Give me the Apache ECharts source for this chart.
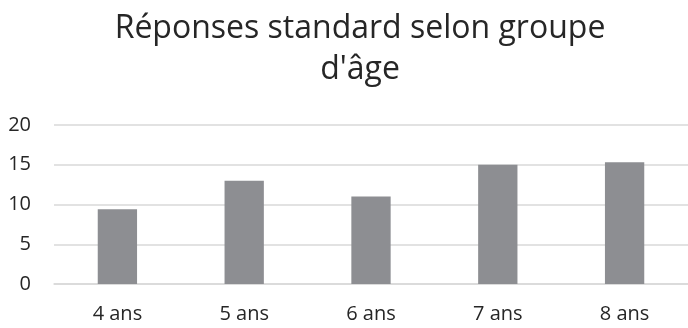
<!DOCTYPE html>
<html><head><meta charset="utf-8">
<script src="https://cdn.jsdelivr.net/npm/echarts@6/dist/echarts.min.js"></script>
<style>html,body{margin:0;padding:0;background:#fff}#c{width:688px;height:328px}</style>
</head><body><div id="c"></div>
<script>
var titleText = "Réponses standard selon groupe\nd'âge";
var categories = ["4 ans", "5 ans", "6 ans", "7 ans", "8 ans"];
var values = [9.4, 13, 11, 15, 15.3];
var yTicks = [0, 5, 10, 15, 20];

var chart = echarts.init(document.getElementById('c'), null, {renderer: 'canvas'});
var font = '"Open Sans", sans-serif';
chart.setOption({
  animation: false,
  backgroundColor: '#fff',
  title: {
    text: titleText,
    left: 355, top: 3, textAlign: 'center',
    textStyle: {fontFamily: font, fontWeight: 'normal', fontSize: 32, color: '#262626', lineHeight: 41}
  },
  grid: {left: 54, right: -7, top: 125, bottom: 44, containLabel: false},
  xAxis: {
    type: 'category', data: categories,
    axisLine: {show: true, lineStyle: {color: '#d9d9d9', width: 1.5}},
    axisTick: {show: false},
    axisLabel: {fontFamily: font, fontSize: 20, color: '#262626', margin: 20}
  },
  yAxis: {
    type: 'value', min: yTicks[0], max: yTicks[yTicks.length-1], interval: 5,
    axisLine: {show: false}, axisTick: {show: false},
    splitLine: {lineStyle: {color: '#d9d9d9', width: 1.5}},
    axisLabel: {fontFamily: font, fontSize: 20, color: '#262626', margin: 23}
  },
  series: [{
    type: 'bar', data: values, barWidth: '31%',
    itemStyle: {color: '#8d8e92'}
  }]
});
</script></body></html>
